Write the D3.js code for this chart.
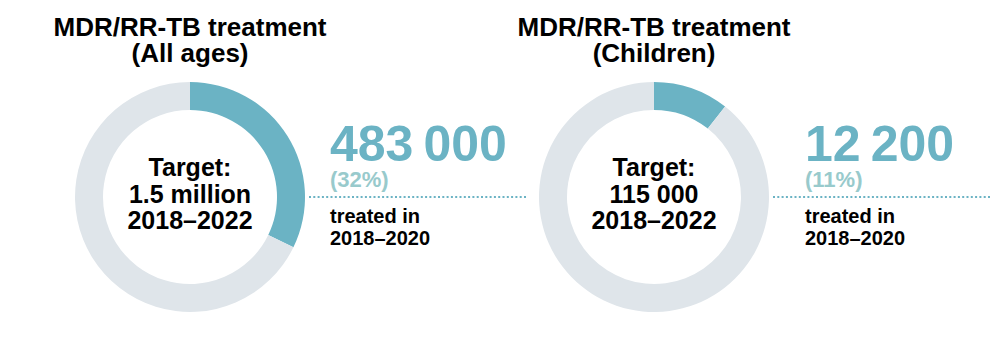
<!DOCTYPE html>
<html lang="en">
<head>
<meta charset="utf-8">
<title>MDR/RR-TB treatment</title>
<script src="https://cdn.jsdelivr.net/npm/d3@7"></script>
<style>
  body { margin: 0; background: #fff; }
  text { font-family: "Liberation Sans", Arial, sans-serif; font-weight: bold; }
</style>
</head>
<body>
<script>
// data
var titles = ["MDR/RR-TB treatment", "MDR/RR-TB treatment"];
var groups = ["(All ages)", "(Children)"];
var targetLabels = ["1.5 million", "115 000"];
var targets = [1500000, 115000];
var treated = [483000, 12200];
var pcts = [32, 11];
var targetPeriod = "2018\u20132022";
var treatedPeriod = "2018\u20132020";

var w = 1000, h = 340;
var outerR = 115, innerR = 87;
var teal = "#6bb3c4", ring = "#dfe5ea", pale = "#98cacc";

var svg = d3.select("body").append("svg")
  .attr("width", w)
  .attr("height", h);

var x = d3.scalePoint().domain(groups).range([190, 654]);
var cy = 197;

var fmt = d3.formatLocale({ decimal: ".", thousands: "\u2009", grouping: [3], currency: ["", ""] }).format(",d");

var pie = d3.pie().sort(null).value(function(d) { return d; });
var arc = d3.arc().innerRadius(innerR).outerRadius(outerR);

groups.forEach(function(g, i) {
  var cx = x(g);
  var panel = svg.append("g").attr("transform", "translate(" + cx + "," + cy + ")");

  // dotted leader line
  var lineEnd = i == 0 ? 336 : 334;
  svg.append("line")
    .attr("x1", cx + outerR + 4).attr("x2", cx + outerR + 4 + 217)
    .attr("y1", cy).attr("y2", cy)
    .attr("stroke", teal)
    .attr("stroke-width", 2)
    .attr("stroke-dasharray", "2,2.3");

  panel.selectAll("path")
    .data(pie([treated[i], targets[i] - treated[i]]))
    .enter().append("path")
    .attr("d", arc)
    .attr("fill", function(d, j) { return j == 0 ? teal : ring; });

  // title
  panel.append("text")
    .attr("text-anchor", "middle")
    .attr("y", 36 - cy)
    .style("font-size", "26px")
    .text(titles[i]);
  panel.append("text")
    .attr("text-anchor", "middle")
    .attr("y", 62 - cy)
    .style("font-size", "26px")
    .text(g);

  // centre label
  var centre = ["Target:", targetLabels[i], targetPeriod];
  centre.forEach(function(t, k) {
    panel.append("text")
      .attr("text-anchor", "middle")
      .attr("y", -21 + k * 26.5)
      .style("font-size", "25px")
      .text(t);
  });

  // side figures
  var tx = i == 0 ? 330 : 805;
  svg.append("text")
    .attr("x", tx).attr("y", 161)
    .attr("fill", teal)
    .style("font-size", "50px")
    .text(fmt(treated[i]));
  svg.append("text")
    .attr("x", tx).attr("y", 187)
    .attr("fill", pale)
    .style("font-size", "22px")
    .text("(" + pcts[i] + "%)");
  svg.append("text")
    .attr("x", tx).attr("y", 223)
    .style("font-size", "20px")
    .text("treated in");
  svg.append("text")
    .attr("x", tx).attr("y", 245)
    .style("font-size", "20px")
    .text(treatedPeriod);
});
</script>
</body>
</html>
